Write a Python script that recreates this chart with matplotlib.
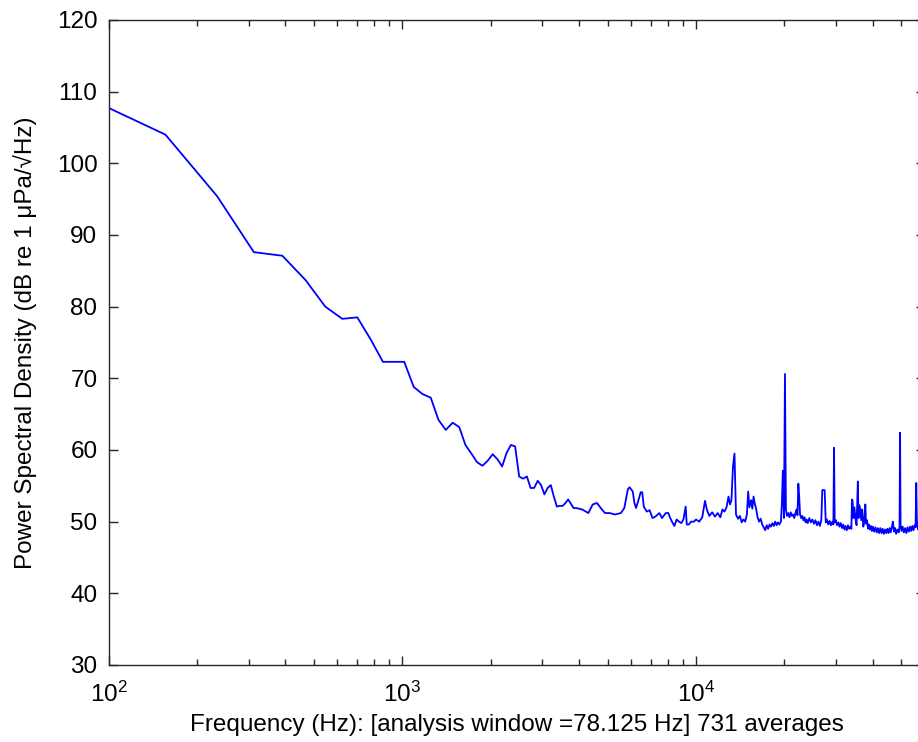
import numpy as np
import matplotlib
matplotlib.use("Agg")
import matplotlib.pyplot as plt
from matplotlib.ticker import LogLocator, NullFormatter, MultipleLocator

plt.rcParams['font.family'] = ['Liberation Sans', 'DejaVu Sans']

# --- data ---
# low end: one value per 78.125 Hz analysis bin
bin_width = 78.125
low_bins = list(range(1, 51))
low_psd = [109.8, 104.0, 95.4, 87.6, 87.1, 83.7, 80.0, 78.3, 78.5, 75.4,
           72.3, 72.3, 72.3, 68.8, 67.8, 67.3, 64.2, 62.8, 63.8, 63.2,
           60.7, 59.5, 58.3, 57.8, 58.5, 59.4, 58.7, 57.7, 59.6, 60.7,
           60.5, 56.3, 56.0, 56.3, 54.7, 54.7, 55.7, 55.1, 53.8, 54.7,
           55.1, 53.5, 52.1, 52.2, 52.2, 52.6, 53.1, 52.5, 51.9, 51.9]

# mid band (4 - 10 kHz)
mid_freq = [4100, 4300, 4450, 4600, 4760, 4900, 5080, 5300, 5550, 5700,
            5860, 5940, 6090, 6170, 6250, 6400, 6480, 6560, 6640, 6800,
            6950, 7110, 7270, 7500, 7660, 7890, 8050, 8130, 8280, 8440,
            8590, 8750, 8910, 9060, 9140, 9220, 9300, 9450, 9610, 9840]
mid_psd = [51.7, 51.2, 52.4, 52.6, 51.8, 51.2, 51.2, 51.0, 51.2, 51.9,
           54.5, 54.8, 54.2, 52.6, 51.9, 53.3, 54.1, 54.1, 52.1, 51.4,
           51.6, 50.5, 50.7, 51.2, 50.5, 51.2, 51.2, 50.7, 50.0, 49.4,
           50.3, 50.0, 49.8, 50.3, 51.2, 52.1, 49.6, 49.6, 50.0, 50.0]

# high band (10 - 60 kHz) with tonal spikes
high_freq = [10000, 10250, 10500, 10730, 10900, 11100, 11350, 11600, 11850, 12100,
             12300, 12500, 12700, 12900, 13050, 13200, 13360, 13520, 13680, 13900,
             14100, 14300, 14500, 14700, 14900, 15050, 15200, 15400, 15550, 15700,
             15850, 16000, 16200, 16400, 16600, 16800, 17000, 17200, 17400, 17600,
             17800, 18000, 18200, 18400, 18600, 18800, 19000, 19200, 19450, 19600,
             19750, 19920, 20080, 20230, 20400, 20600, 20800, 21000, 21200, 21400,
             21600, 21800, 22000, 22150, 22300, 22450, 22600, 22800, 23000, 23200,
             23400, 23600, 23800, 24000, 24300, 24600, 24900, 25200, 25500, 25800,
             26100, 26400, 26700, 26900, 27150, 27400, 27650, 27900, 28200, 28500,
             28800, 29100, 29350, 29500, 29650, 29900, 30200, 30500, 30800, 31100,
             31400, 31700, 32000, 32300, 32600, 32900, 33200, 33500, 33800, 33950,
             34100, 34350, 34600, 34900, 35200, 35550, 35750, 35950, 36200, 36500,
             36800, 37100, 37400, 37700, 37900, 38200, 38500, 38800, 39100, 39400,
             39700, 40000, 40400, 40800, 41200, 41600, 42000, 42400, 42800, 43200,
             43600, 44000, 44400, 44800, 45200, 45600, 46000, 46400, 46800, 47200,
             47600, 48000, 48500, 49000, 49300, 49500, 49700, 50100, 50500, 51000,
             51500, 52000, 52500, 53000, 53500, 54000, 54500, 55000, 55500, 55900,
             56200, 56500, 57000, 57500, 58000, 58500, 59000, 59500, 60000]
high_psd = [50.3, 50.0, 50.6, 52.9, 51.6, 50.8, 51.3, 50.7, 51.2, 50.6,
            51.7, 51.4, 52.0, 53.5, 52.4, 53.0, 57.7, 59.5, 51.0, 50.4,
            50.8, 49.9, 50.3, 50.0, 51.0, 54.2, 52.0, 53.0, 51.8, 53.5,
            52.5, 51.9, 50.6, 50.0, 50.4, 49.6, 49.2, 48.8, 49.5, 49.0,
            49.6, 49.3, 49.8, 49.4, 50.0, 49.5, 49.9, 49.6, 50.0, 52.5,
            57.1, 50.5, 70.6, 51.7, 50.8, 51.2, 50.6, 51.3, 50.8, 51.0,
            50.5, 51.2, 51.7, 50.9, 55.3, 53.5, 51.0, 50.5, 50.8, 50.2,
            50.6, 49.9, 50.3, 49.8, 50.5, 49.9, 50.3, 49.7, 50.2, 49.5,
            50.0, 49.4, 50.2, 54.4, 54.4, 54.4, 49.9, 50.3, 49.6, 50.1,
            49.5, 50.0, 49.6, 60.3, 49.9, 50.2, 49.5, 49.9, 49.3, 49.8,
            49.1, 49.6, 48.9, 49.4, 48.8, 49.5, 49.0, 49.3, 49.0, 53.1,
            53.0, 50.5, 52.0, 50.4, 49.5, 55.6, 50.5, 52.3, 51.8, 50.2,
            51.7, 49.3, 50.0, 52.4, 49.7, 50.2, 49.0, 49.6, 48.9, 49.4,
            48.7, 49.3, 48.6, 49.2, 48.5, 49.1, 48.4, 49.1, 48.4, 49.0,
            48.3, 48.9, 48.4, 49.0, 48.4, 49.1, 48.5, 49.2, 50.0, 48.6,
            49.1, 48.3, 48.9, 48.5, 49.3, 62.4, 49.5, 48.7, 49.3, 48.5,
            49.1, 48.4, 49.2, 48.6, 49.3, 48.7, 49.4, 48.8, 49.5, 49.2,
            55.4, 49.7, 48.9, 49.4, 48.8, 49.3, 48.7, 49.2, 48.9]

freq = np.concatenate([np.array(low_bins) * bin_width, mid_freq, high_freq])
psd = np.concatenate([low_psd, mid_psd, high_psd])

# --- plot ---
fig = plt.figure(figsize=(9.18, 7.42), dpi=100)
ax = fig.add_axes([0.1182, 0.1038, 0.889, 0.8693])
ax.semilogx(freq, psd, color='#0000ff', lw=1.3)

ax.set_xlim(100, 60000)
ax.set_ylim(30, 120)
ax.yaxis.set_major_locator(MultipleLocator(10))
ax.xaxis.set_major_locator(LogLocator(base=10))
ax.xaxis.set_minor_locator(LogLocator(base=10, subs=np.arange(2, 10)))
ax.xaxis.set_minor_formatter(NullFormatter())

ax.tick_params(which='both', direction='in', top=True, right=True,
               labelsize=17.5, width=1.0, color='#262626')
ax.tick_params(which='major', length=6.5)
ax.tick_params(which='minor', length=4.3)
ax.tick_params(axis='y', pad=8)
ax.tick_params(axis='x', pad=12)
for s in ax.spines.values():
    s.set_linewidth(1.0)
    s.set_color('#262626')

ax.set_xlabel('Frequency (Hz): [analysis window =78.125 Hz] 731 averages',
              fontsize=17.5, labelpad=5)
ax.set_ylabel('Power Spectral Density (dB re 1 \u03bcPa/\u221aHz)',
              fontsize=17.5, labelpad=14)

fig.savefig('out.png', dpi=100)
